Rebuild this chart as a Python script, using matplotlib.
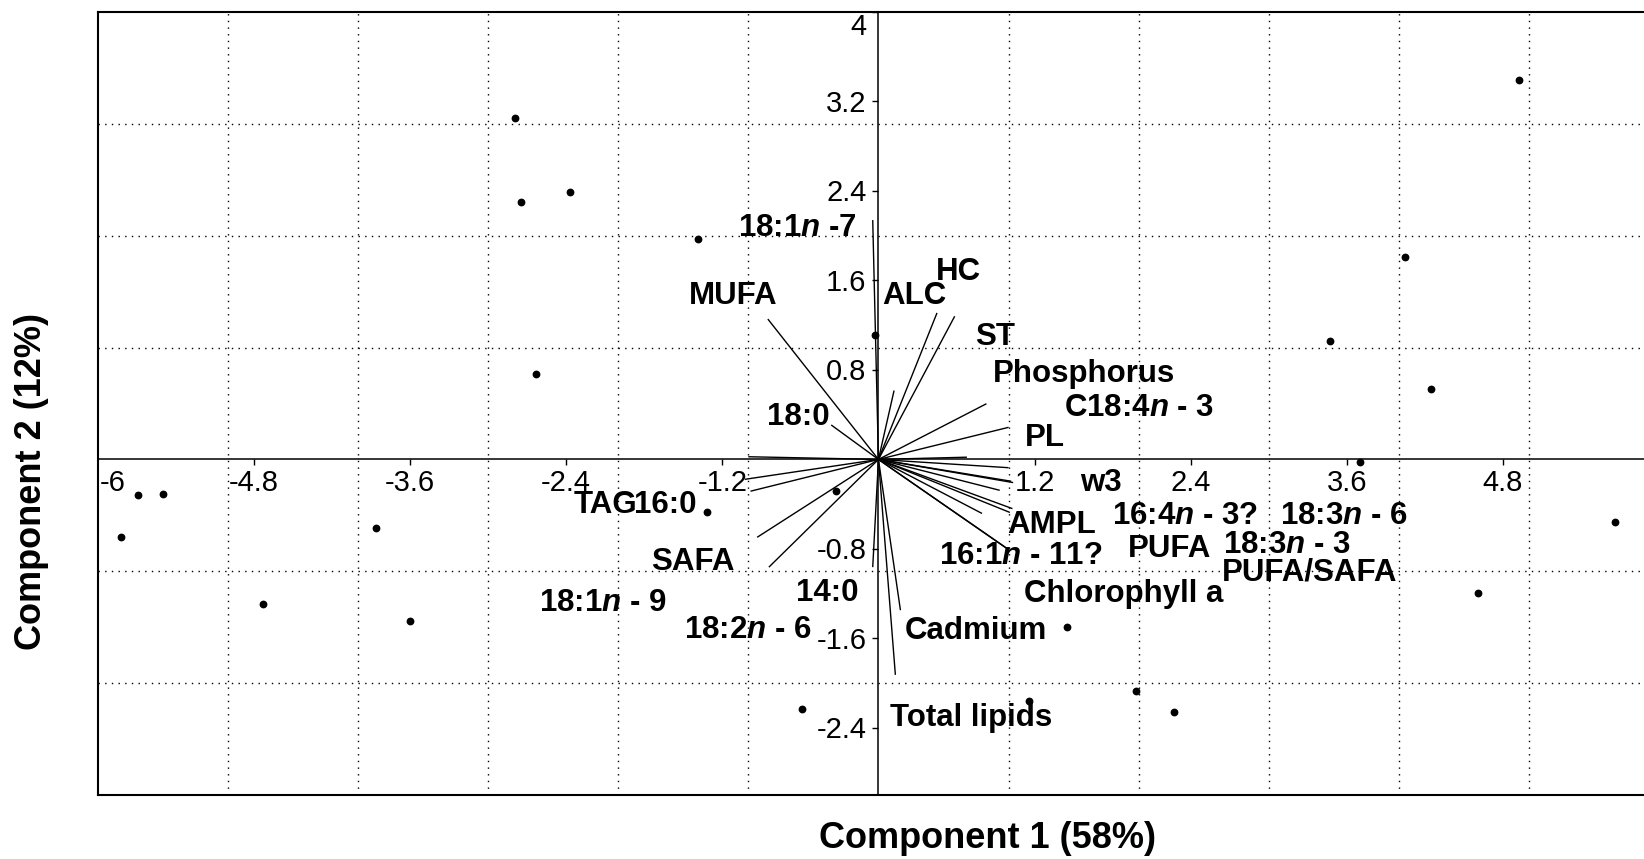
import matplotlib
matplotlib.use("Agg")
import matplotlib.pyplot as plt
import matplotlib.markers as mmarkers

plt.rcParams['font.family'] = ['Liberation Sans', 'DejaVu Sans']
plt.rcParams['mathtext.fontset'] = 'custom'
plt.rcParams['mathtext.it'] = 'Liberation Sans:italic:bold'
plt.rcParams['mathtext.rm'] = 'Liberation Sans:bold'
plt.rcParams['mathtext.bf'] = 'Liberation Sans:bold'

# Sample scores on the first two components
score_x = [-2.79, -2.75, -2.37, -1.39, -2.63, -0.03,
           -5.82, -5.69, -5.50, -3.86, -4.73, -3.60,
           -1.32, -0.33, -0.59,
           1.45, 1.155, 1.98, 2.27,
           4.92, 4.05, 3.47, 4.25, 3.70, 5.66, 4.61]
score_y = [3.05, 2.30, 2.39, 1.97, 0.76, 1.11,
           -0.69, -0.317, -0.305, -0.613, -1.295, -1.443,
           -0.468, -0.28, -2.23,
           -1.496, -2.157, -2.074, -2.258,
           3.39, 1.81, 1.058, 0.626, -0.026, -0.56, -1.19]

# Variable loading vectors (end points, drawn from the origin)
load_x = [-0.044, -0.85, -0.363, 0.45, 0.586, 0.12, 0.83, 1.0, 0.68, -1.0,
          1.0, 1.035, 1.02, 0.932, 1.03, 1.01, 0.796, 0.975, 0.985,
          -0.044, 0.169, 0.13,
          -1.027, -0.983, -0.932, -0.842]
load_y = [2.14, 1.255, 0.308, 1.31, 1.28, 0.616, 0.498, 0.287, 0.02, 0.024,
          -0.074, -0.207, -0.195, -0.276, -0.44, -0.474, -0.483, -0.785, -0.795,
          -0.963, -1.348, -1.926,
          -0.178, -0.284, -0.696, -0.963]

# Variable names and where they are written (left edge, text middle)
var_names = [r"18:1$n$ -7", "MUFA", "ALC", "HC", "ST", "Phosphorus",
             r"C18:4$n$ - 3", "PL", "18:0", "w3", "AMPL", r"16:4$n$ - 3?",
             r"18:3$n$ - 6", "PUFA", r"18:3$n$ - 3", "PUFA/SAFA",
             r"16:1$n$ - 11?", "Chlorophyll a", "Cadmium", "Total lipids",
             "14:0", r"18:2$n$ - 6", r"18:1$n$ - 9", "SAFA", "TAG", "16:0"]
var_x = [-1.08, -1.456, 0.028, 0.438, 0.745, 0.878,
         1.423, 1.129, -0.855, 1.551, 0.988, 1.795,
         3.088, 1.918, 2.647, 2.64,
         0.463, 1.121, 0.2, 0.092,
         -0.637, -1.495, -2.609, -1.746, -2.345, -1.875]
var_y = [2.10, 1.489, 1.489, 1.704, 1.118, 0.793,
         0.482, 0.222, 0.407, -0.182, -0.563, -0.482,
         -0.482, -0.77, -0.741, -0.985,
         -0.837, -1.178, -1.504, -2.289,
         -1.163, -1.496, -1.26, -0.89, -0.381, -0.381]

x_ticks = [-6, -4.8, -3.6, -2.4, -1.2, 1.2, 2.4, 3.6, 4.8]
x_tick_labels = ["-6", "-4.8", "-3.6", "-2.4", "-1.2", "1.2", "2.4", "3.6", "4.8"]
y_ticks = [4, 3.2, 2.4, 1.6, 0.8, -0.8, -1.6, -2.4]
y_tick_labels = ["4", "3.2", "2.4", "1.6", "0.8", "-0.8", "-1.6", "-2.4"]
x_grid = [-5, -4, -3, -2, -1, 1, 2, 3, 4, 5]
y_grid = [-2, -1, 1, 2, 3]

W, H = 1644, 859
fig = plt.figure(figsize=(W / 100, H / 100), dpi=100)
ax = fig.add_axes([97.7 / W, 1 - 795 / H, 1561.5 / W, 783 / H])
ax.set_xlim(-6, 6)
ax.set_ylim(-3, 4)
ax.set_xticks([])
ax.set_yticks([])
for sp in ax.spines.values():
    sp.set_linewidth(1.5)
    sp.set_color('black')

dotted = (0, (1, 3.8))
for g in x_grid:
    ax.axvline(g, color='black', lw=1.0, ls=dotted, zorder=1)
for g in y_grid:
    ax.axhline(g, color='black', lw=1.0, ls=dotted, zorder=1)

# Central axes through the origin
ax.axhline(0, color='black', lw=1.1, zorder=2)
ax.axvline(0, color='black', lw=1.1, zorder=2)
ax.plot(x_ticks[1:], [0] * (len(x_ticks) - 1), ls='none',
        marker=mmarkers.TICKDOWN, ms=4, mew=1.0, color='black', zorder=2)
ax.plot([0] * len(y_ticks), y_ticks, ls='none',
        marker=mmarkers.TICKLEFT, ms=4, mew=1.0, color='black', zorder=2)

for t, lab in zip(x_ticks, x_tick_labels):
    if t == x_ticks[0]:
        ax.annotate(lab, xy=(t, 0), xytext=(1.5, -23), textcoords='offset points',
                    ha='left', va='baseline', fontsize=21)
    else:
        ax.annotate(lab, xy=(t, 0), xytext=(0, -23), textcoords='offset points',
                    ha='center', va='baseline', fontsize=21)
for t, lab in zip(y_ticks, y_tick_labels):
    dy = -16.5 if t == y_ticks[0] else -7.5
    ax.annotate(lab, xy=(0, t), xytext=(-8.6, dy), textcoords='offset points',
                ha='right', va='baseline', fontsize=21)

# Loading vectors
for lx, ly in zip(load_x, load_y):
    ax.plot([0, lx], [0, ly], color='black', lw=1.0, zorder=3,
            solid_capstyle='butt')

# Sample scores
ax.plot(score_x, score_y, 'o', color='black', ms=4.6, zorder=5)

# Variable names
cap_half = 11.0 / 112.0
for name, vx, vy in zip(var_names, var_x, var_y):
    ax.text(vx, vy - cap_half, name, fontsize=22.5, fontweight='bold',
            ha='left', va='baseline', zorder=6)

fig.text(987 / W, 1 - 838.8 / H, "Component 1 (58%)", ha='center', va='center',
         fontsize=26, fontweight='bold')
fig.text(31.5 / W, 1 - 482 / H, "Component 2 (12%)", ha='center', va='center',
         rotation=90, fontsize=26, fontweight='bold')

fig.savefig("out.png", dpi=100)
